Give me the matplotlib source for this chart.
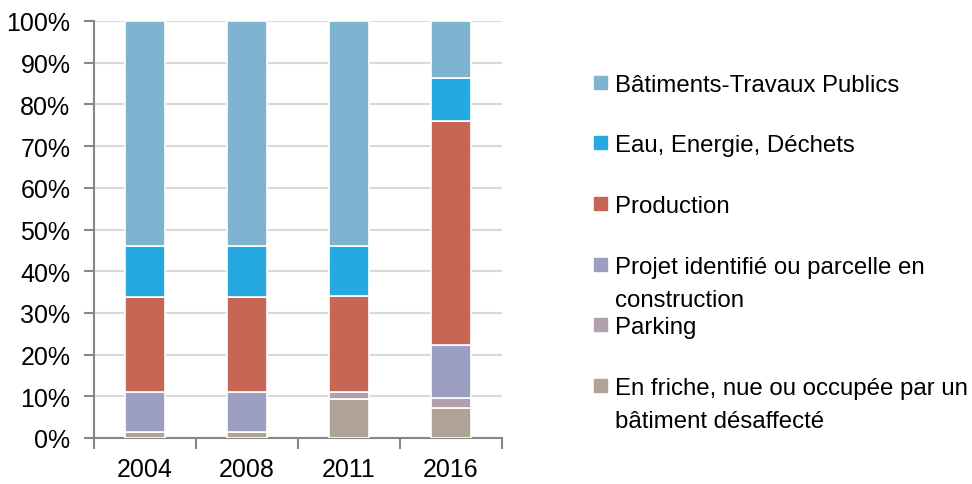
import matplotlib
matplotlib.use("Agg")
import matplotlib.pyplot as plt
from matplotlib.patches import Rectangle
import numpy as np

plt.rcParams['font.family'] = ['Liberation Sans', 'DejaVu Sans']

# data (share of surface, %)
years = ["2004", "2008", "2011", "2016"]
categories = ["En friche, nue ou occupée par un\nbâtiment désaffecté",
              "Parking",
              "Projet identifié ou parcelle en\nconstruction",
              "Production",
              "Eau, Energie, Déchets",
              "Bâtiments-Travaux Publics"]
friche = [1.5, 1.5, 9.4, 7.3]
parking = [0.0, 0.0, 1.7, 2.4]
projet = [9.6, 9.6, 0.0, 12.5]
production = [22.8, 22.8, 22.9, 53.9]
eau = [12.1, 12.1, 12.1, 10.3]
batiments = [54.0, 54.0, 53.9, 13.6]
colors = ["#B0A395", "#B2A0AE", "#9D9FC2", "#C86656", "#26A9E0", "#7FB4D1"]

series = [friche, parking, projet, production, eau, batiments]

fig = plt.figure(figsize=(9.72, 4.85), dpi=100)
ax = fig.add_axes([94/972, 1-439/485, 408/972, 417/485])

x = np.arange(len(years))
bottom = np.zeros(len(years))
for vals, col in zip(series, colors):
    ax.bar(x, vals, width=0.39, bottom=bottom, color=col, edgecolor="white", linewidth=1.2, zorder=3)
    bottom += np.array(vals)

ax.set_xlim(-0.5, 3.5)
ax.set_ylim(0, 100)
ax.set_yticks(np.arange(0, 101, 10))
ax.set_yticklabels([f"{v}%" for v in range(0, 101, 10)], fontsize=18)
ax.set_xticks(x)
ax.set_xticklabels(years, fontsize=18)
ax.set_xticks(np.arange(-0.5, 3.6, 1), minor=True)
ax.tick_params(axis="x", which="major", length=0, pad=14)
ax.tick_params(axis="x", which="minor", length=8, width=1.5, color="#878787")
ax.tick_params(axis="y", length=7, width=1.5, color="#878787", pad=10)
ax.grid(axis="y", color="#D9D9D9", linewidth=1.5, zorder=0)
for s in ["top", "right"]:
    ax.spines[s].set_visible(False)
for s in ["left", "bottom"]:
    ax.spines[s].set_color("#878787")
    ax.spines[s].set_linewidth(1.5)

# legend drawn by hand in pixel coordinates
lax = fig.add_axes([0, 0, 1, 1])
lax.set_xlim(0, 972)
lax.set_ylim(485, 0)
lax.axis("off")
legend_y = [83, 143, 204, 265, 325, 386]
for yc, lab, col in zip(legend_y, categories[::-1], colors[::-1]):
    lax.add_patch(Rectangle((594, yc - 6.5), 13, 13, color=col))
    for i, line in enumerate(lab.split("\n")):
        lax.text(615, yc + 9 + i * 33, line, fontsize=17.3, va="baseline", ha="left")

fig.savefig("out.png", dpi=100)
